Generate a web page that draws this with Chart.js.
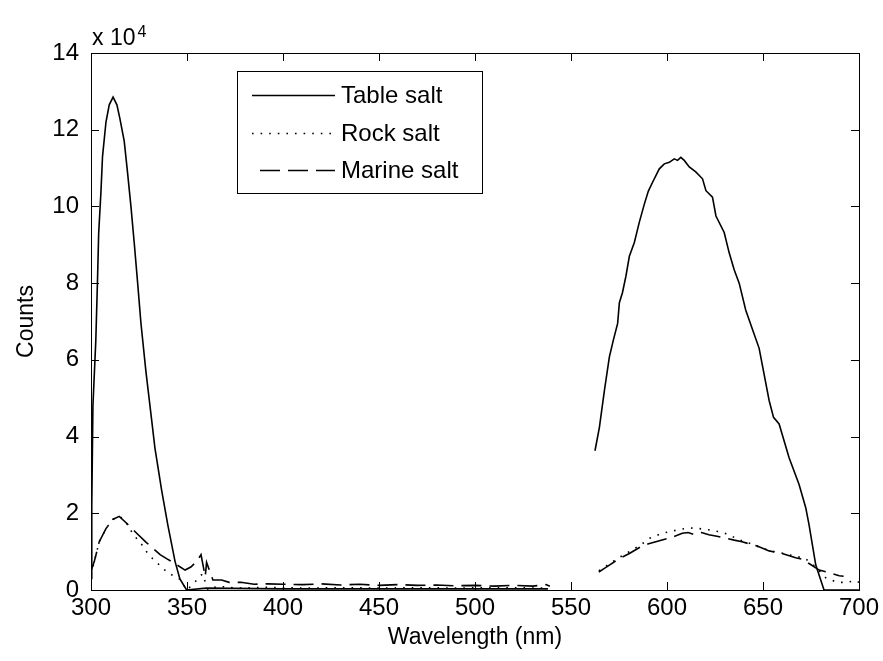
<!DOCTYPE html>
<html>
<head>
<meta charset="utf-8">
<title>Salt spectra</title>
<script src="https://cdn.jsdelivr.net/npm/chart.js@4/dist/chart.umd.min.js"></script>
<style>
    html, body { margin: 0; padding: 0; background: #fff; }
    #wrap { width: 883px; height: 661px; }
</style>
</head>
<body>
<div id="wrap"><canvas id="spectrum-chart" width="883" height="661"></canvas></div>
<script>
// Spectra of three salts, counts in units of 10^4
// A null count splits the UV part (300-540 nm) from the visible part (562-700 nm)

const tableSaltNm = [
    300.0, 300.4, 301.0, 302.5, 303.4, 304.0, 305.2, 306.0, 307.8, 309.5,
    311.5, 313.5, 315.0, 317.3, 319.0, 320.8, 322.5, 324.3, 326.0, 328.6,
    331.2, 333.3, 336.8, 340.0, 343.8, 346.3, 349.8, 360.0, 400.0, 450.0,
    500.0, 538.0,
    550.0,
    562.5, 564.8, 567.4, 570.0, 572.0, 574.3, 575.2, 576.8, 578.6, 580.4,
    583.0, 585.6, 588.2, 590.3, 592.5, 596.0, 598.6, 601.2, 603.8, 605.5,
    607.2, 609.0, 611.6, 615.0, 618.5, 620.3, 623.7, 625.5, 629.8, 632.4,
    635.0, 637.6, 641.0, 644.5, 648.0, 653.2, 655.5, 658.4, 663.6, 668.8,
    672.3, 674.0, 677.5, 681.8, 690.0, 700.0
];
const tableSaltCounts = [
    0.3, 2.2, 4.8, 6.5, 8.1, 9.3, 10.4, 11.3, 12.2, 12.65,
    12.85, 12.65, 12.3, 11.7, 10.9, 10.0, 9.06, 8.0, 6.96, 5.7,
    4.6, 3.7, 2.6, 1.7, 0.74, 0.29, 0.0, 0.05, 0.03, 0.03,
    0.03, 0.03,
    null,
    3.63, 4.24, 5.2, 6.08, 6.5, 6.95, 7.49, 7.75, 8.18, 8.7,
    9.06, 9.59, 10.06, 10.4, 10.63, 10.98, 11.11, 11.15, 11.24, 11.2,
    11.28, 11.2, 11.03, 10.9, 10.72, 10.41, 10.24, 9.75, 9.32, 8.79,
    8.35, 8.0, 7.3, 6.8, 6.3, 4.94, 4.5, 4.33, 3.45, 2.75,
    2.14, 1.7, 0.65, 0.0, 0.0, 0.0
];

const rockSaltNm = [
    300.0, 301.7, 304.3, 307.8, 311.3, 314.7, 317.0, 319.0, 322.0, 326.5,
    330.0, 335.0, 340.0, 346.0, 350.0, 354.0, 358.0, 361.0, 366.0, 375.0,
    390.0, 410.0, 430.0, 450.0, 470.0, 490.0, 510.0, 538.0,
    550.0,
    564.5, 570.0, 575.2, 580.4, 586.4, 591.0, 597.6, 606.0, 611.6, 616.8,
    621.8, 627.0, 632.0, 637.0, 643.0, 648.0, 654.0, 660.0, 667.0, 672.0,
    677.0, 683.0, 689.0, 694.0, 698.0, 700.0
];
const rockSaltCounts = [
    0.4, 0.74, 1.26, 1.6, 1.84, 1.92, 1.85, 1.7, 1.45, 1.18,
    0.92, 0.68, 0.45, 0.29, 0.0, 0.2, 0.42, 0.0, 0.1, 0.05,
    0.07, 0.05, 0.06, 0.05, 0.06, 0.05, 0.06, 0.05,
    null,
    0.5, 0.68, 0.85, 1.0, 1.18, 1.35, 1.48, 1.57, 1.62, 1.6,
    1.57, 1.52, 1.45, 1.32, 1.22, 1.12, 1.02, 0.96, 0.88, 0.82,
    0.62, 0.3, 0.2, 0.2, 0.25, 0.2
];

const marineSaltNm = [
    300.0, 301.7, 304.3, 307.8, 311.3, 314.7, 319.0, 323.4, 328.6, 332.0,
    336.0, 340.0, 343.7, 349.0, 352.0, 355.0, 357.3, 359.5, 360.2, 363.5,
    368.0, 372.0, 378.0, 385.0, 392.0, 400.0, 410.0, 420.0, 430.0, 440.0,
    450.0, 460.0, 470.0, 480.0, 490.0, 500.0, 510.0, 520.0, 530.0, 537.0,
    539.0,
    550.0,
    564.5, 567.0, 570.0, 575.2, 580.4, 586.4, 590.0, 594.2, 601.0, 605.0,
    608.0, 611.0, 614.0, 618.0, 621.8, 626.0, 630.5, 635.0, 639.1, 643.0,
    647.0, 653.2, 660.0, 667.0, 671.0, 674.0, 679.3, 684.5, 689.7, 692.0
];
const marineSaltCounts = [
    0.5, 0.74, 1.26, 1.6, 1.84, 1.92, 1.72, 1.5, 1.25, 1.1,
    0.92, 0.8, 0.69, 0.52, 0.6, 0.74, 0.92, 0.35, 0.72, 0.26,
    0.26, 0.2, 0.2, 0.15, 0.16, 0.15, 0.14, 0.16, 0.13, 0.15,
    0.12, 0.14, 0.12, 0.13, 0.11, 0.12, 0.1, 0.12, 0.1, 0.14,
    0.1,
    null,
    0.47, 0.55, 0.65, 0.82, 0.95, 1.13, 1.2, 1.26, 1.35, 1.42,
    1.48, 1.5, 1.45, 1.5, 1.44, 1.4, 1.35, 1.3, 1.26, 1.2,
    1.15, 1.02, 0.95, 0.84, 0.8, 0.69, 0.52, 0.45, 0.37, 0.36
];

const FONT_FAMILY = "'Liberation Sans', Arial, sans-serif";
const TICK_LEN = 8;

function toPoints(nm, counts) {
    return nm.map((x, i) => ({ x: x, y: counts[i] }));
}

/**
 * Box around the plot area with inward ticks on all four sides,
 * plus the "x 10^4" multiplier above the y axis
 */
const boxTicksPlugin = {
    id: 'boxTicks',
    afterDatasetsDraw(chart) {
        const ctx = chart.ctx;
        const area = chart.chartArea;
        const xScale = chart.scales.x;
        const yScale = chart.scales.y;
        ctx.save();
        ctx.strokeStyle = '#000';
        ctx.lineWidth = 1;
        ctx.beginPath();
        xScale.ticks.forEach(t => {
            const px = Math.round(xScale.getPixelForValue(t.value)) + 0.5;
            ctx.moveTo(px, area.bottom);
            ctx.lineTo(px, area.bottom - TICK_LEN);
            ctx.moveTo(px, area.top);
            ctx.lineTo(px, area.top + TICK_LEN);
        });
        yScale.ticks.forEach(t => {
            const py = Math.round(yScale.getPixelForValue(t.value)) + 0.5;
            ctx.moveTo(area.left, py);
            ctx.lineTo(area.left + TICK_LEN, py);
            ctx.moveTo(area.right, py);
            ctx.lineTo(area.right - TICK_LEN, py);
        });
        ctx.stroke();
        ctx.strokeRect(Math.round(area.left) + 0.5, Math.round(area.top) + 0.5,
            Math.round(area.right - area.left), Math.round(area.bottom - area.top));

        // multiplier of the y axis
        ctx.fillStyle = '#000';
        ctx.textBaseline = 'alphabetic';
        ctx.textAlign = 'left';
        ctx.font = '23px ' + FONT_FAMILY;
        ctx.fillText('x 10', area.left + 1, area.top - 8);
        const w = ctx.measureText('x 10').width;
        ctx.font = '16px ' + FONT_FAMILY;
        ctx.fillText('4', area.left + 3 + w, area.top - 16);
        ctx.restore();
    }
};

/**
 * Legend box drawn inside the plot area from the dataset styles
 */
const insideLegendPlugin = {
    id: 'insideLegend',
    afterDraw(chart) {
        const ctx = chart.ctx;
        const box = { x: 237, y: 71, w: 245, h: 122 };
        const rows = [95, 133, 170];
        ctx.save();
        ctx.fillStyle = '#fff';
        ctx.fillRect(box.x, box.y, box.w, box.h);
        ctx.strokeStyle = '#000';
        ctx.lineWidth = 1;
        ctx.strokeRect(box.x + 0.5, box.y + 0.5, box.w, box.h);

        chart.data.datasets.forEach((ds, i) => {
            const y = rows[i] + 0.5;
            ctx.beginPath();
            ctx.setLineDash(ds.borderDash || []);
            ctx.lineWidth = ds.borderWidth;
            ctx.strokeStyle = ds.borderColor;
            ctx.moveTo(ds.borderDash && ds.borderDash[0] > 10 ? 260 : 252, y);
            ctx.lineTo(335, y);
            ctx.stroke();
            ctx.setLineDash([]);
            ctx.fillStyle = '#000';
            ctx.font = '24px ' + FONT_FAMILY;
            ctx.textBaseline = 'middle';
            ctx.textAlign = 'left';
            ctx.fillText(ds.label, 341, rows[i] + 1);
        });
        ctx.restore();
    }
};

function initSpectrumChart() {
    const ctx = document.getElementById('spectrum-chart').getContext('2d');
    return new Chart(ctx, {
        type: 'line',
        data: {
            datasets: [{
                label: 'Table salt',
                data: toPoints(tableSaltNm, tableSaltCounts),
                borderColor: '#000',
                borderWidth: 1.6,
                borderDash: []
            }, {
                label: 'Rock salt',
                data: toPoints(rockSaltNm, rockSaltCounts),
                borderColor: '#000',
                borderWidth: 1.6,
                borderDash: [1.6, 7]
            }, {
                label: 'Marine salt',
                data: toPoints(marineSaltNm, marineSaltCounts),
                borderColor: '#000',
                borderWidth: 1.6,
                borderDash: [20, 8]
            }]
        },
        options: {
            responsive: false,
            animation: false,
            spanGaps: false,
            elements: {
                point: { radius: 0 },
                line: { tension: 0, fill: false }
            },
            layout: {
                padding: { top: 53, right: 23, left: 0, bottom: 0 }
            },
            plugins: {
                legend: { display: false },
                tooltip: { enabled: false }
            },
            scales: {
                x: {
                    type: 'linear',
                    min: 300,
                    max: 700,
                    afterFit: scale => { scale.height = 71; },
                    ticks: {
                        stepSize: 50,
                        padding: 4,
                        color: '#000',
                        maxRotation: 0,
                        font: { family: FONT_FAMILY, size: 24 }
                    },
                    grid: { display: false, drawTicks: false },
                    border: { display: false },
                    title: {
                        display: true,
                        text: 'Wavelength (nm)',
                        color: '#000',
                        padding: { top: 0, bottom: 10 },
                        font: { family: FONT_FAMILY, size: 23 }
                    }
                },
                y: {
                    min: 0,
                    max: 14,
                    afterFit: scale => { scale.width = 91; },
                    ticks: {
                        stepSize: 2,
                        padding: 12,
                        color: '#000',
                        font: { family: FONT_FAMILY, size: 24 }
                    },
                    grid: { display: false, drawTicks: false },
                    border: { display: false },
                    title: {
                        display: true,
                        text: 'Counts',
                        color: '#000',
                        padding: { top: 13, bottom: 0 },
                        font: { family: FONT_FAMILY, size: 23 }
                    }
                }
            }
        },
        plugins: [boxTicksPlugin, insideLegendPlugin]
    });
}

initSpectrumChart();
</script>
</body>
</html>
